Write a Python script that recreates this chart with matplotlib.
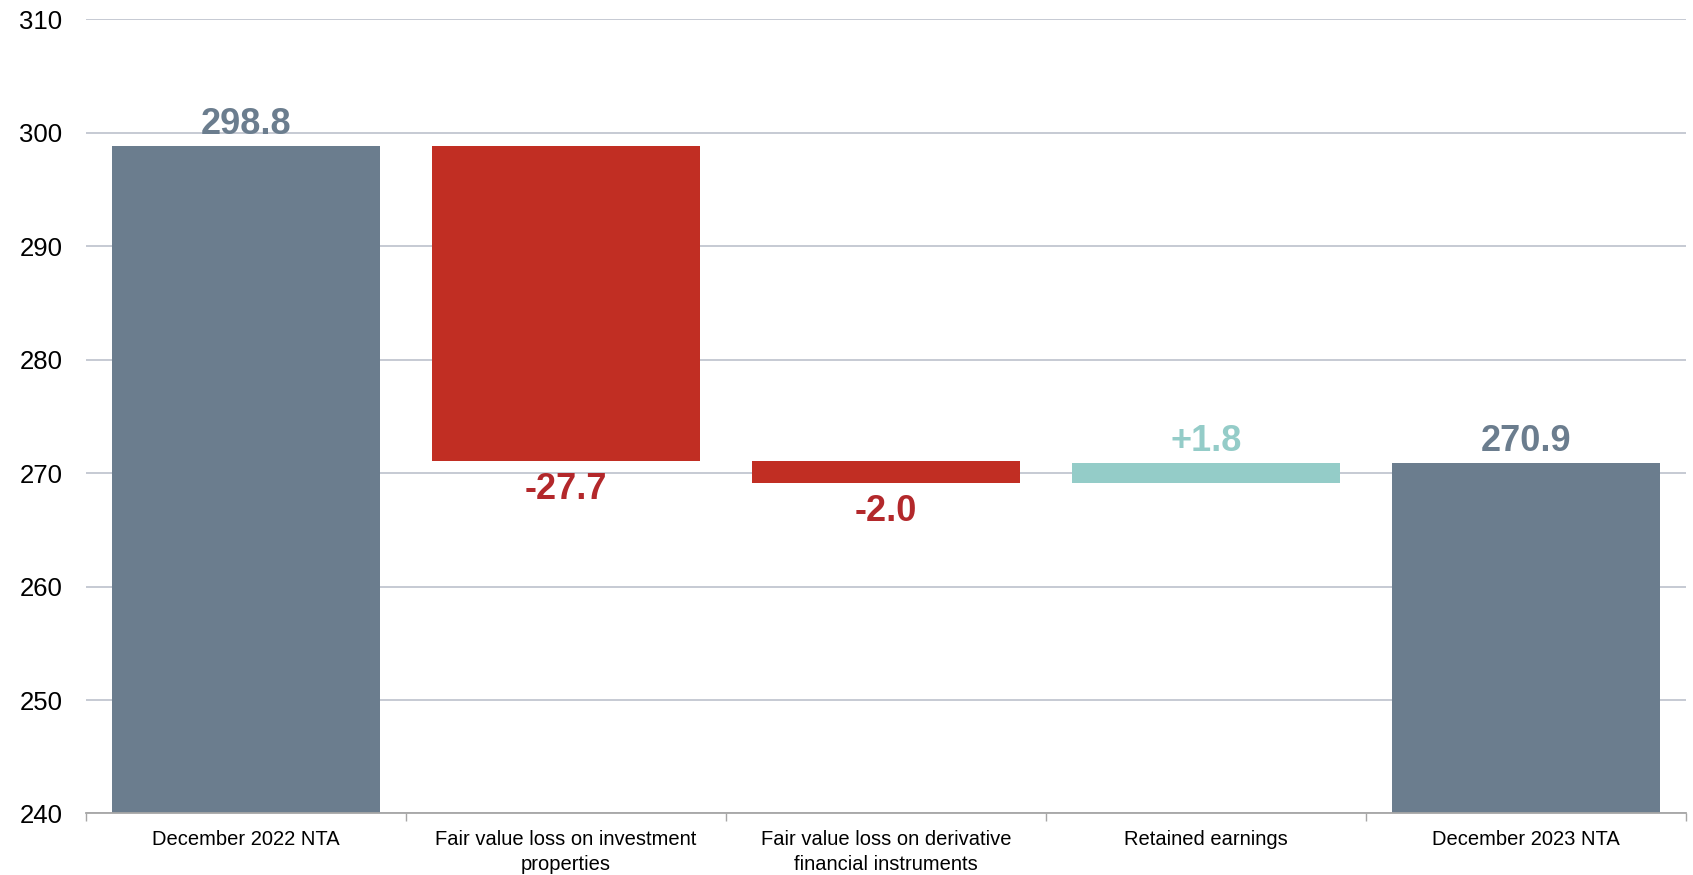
import matplotlib.pyplot as plt
import numpy as np
from matplotlib.ticker import FixedLocator

# --- Data ---
CATEGORIES = [
    'December 2022 NTA',
    'Fair value loss on investment\nproperties',
    'Fair value loss on derivative\nfinancial instruments',
    'Retained earnings',
    'December 2023 NTA',
]
START_VALUE = 298.8
CHANGES = [-27.7, -2.0, 1.8]
END_VALUE = 270.9
Y_TICKS = [240, 250, 260, 270, 280, 290, 300, 310]

# --- Style ---
SLATE = '#6b7d8e'
RED = '#c12e23'
RED_TEXT = '#b3282b'
TEAL = '#94ccc8'
GRID = '#c2c6d0'

plt.rcParams['font.family'] = ['Liberation Sans', 'DejaVu Sans']

fig = plt.figure(figsize=(16.93, 8.75), dpi=100)
ax = fig.add_axes([0.0508, 0.0703, 0.9451, 0.9075])

x = np.arange(len(CATEGORIES))
width = 0.84

# waterfall bottoms/heights
running = np.cumsum([START_VALUE] + CHANGES)
bottoms = [0]
heights = [START_VALUE]
for i, d in enumerate(CHANGES):
    lo = min(running[i], running[i + 1])
    bottoms.append(lo)
    heights.append(abs(d))
bottoms.append(0)
heights.append(END_VALUE)

colors = [SLATE] + [RED if d < 0 else TEAL for d in CHANGES] + [SLATE]
ax.bar(x, heights, bottom=bottoms, width=width, color=colors, zorder=3)

# labels
ax.annotate(f'{START_VALUE:.1f}', (x[0], START_VALUE), xytext=(0, 3),
            textcoords='offset points', ha='center', va='bottom',
            fontsize=26, fontweight='bold', color=SLATE)
for i, d in enumerate(CHANGES):
    xi = x[i + 1]
    if d < 0:
        ax.annotate(f'{d:.1f}', (xi, bottoms[i + 1]), xytext=(0, -8),
                    textcoords='offset points', ha='center', va='top',
                    fontsize=26, fontweight='bold', color=RED_TEXT)
    else:
        ax.annotate(f'+{d:.1f}', (xi, bottoms[i + 1] + heights[i + 1]), xytext=(0, 3),
                    textcoords='offset points', ha='center', va='bottom',
                    fontsize=26, fontweight='bold', color=TEAL)
ax.annotate(f'{END_VALUE:.1f}', (x[-1], END_VALUE), xytext=(0, 3),
            textcoords='offset points', ha='center', va='bottom',
            fontsize=26, fontweight='bold', color=SLATE)

# axes
ax.set_ylim(Y_TICKS[0], Y_TICKS[-1])
ax.set_xlim(-0.5, len(CATEGORIES) - 0.5)
ax.set_yticks(Y_TICKS)
ax.tick_params(axis='y', length=0, pad=17, labelsize=18.5)
ax.set_xticks(x)
ax.set_xticklabels(CATEGORIES, fontsize=14.5, linespacing=1.4)
ax.tick_params(axis='x', which='major', length=0, pad=12)
ax.xaxis.set_minor_locator(FixedLocator(np.arange(-0.5, len(CATEGORIES), 1.0)))
ax.tick_params(axis='x', which='minor', length=6, color='#a6a6a6', width=1)

ax.grid(axis='y', color=GRID, linewidth=1.3, zorder=0)
ax.set_axisbelow(True)
for s in ['top', 'right', 'left']:
    ax.spines[s].set_visible(False)
ax.spines['bottom'].set_color('#a6a6a6')
ax.spines['bottom'].set_linewidth(1.3)
ax.spines['bottom'].set_zorder(4)

fig.savefig('out.png', dpi=100)
